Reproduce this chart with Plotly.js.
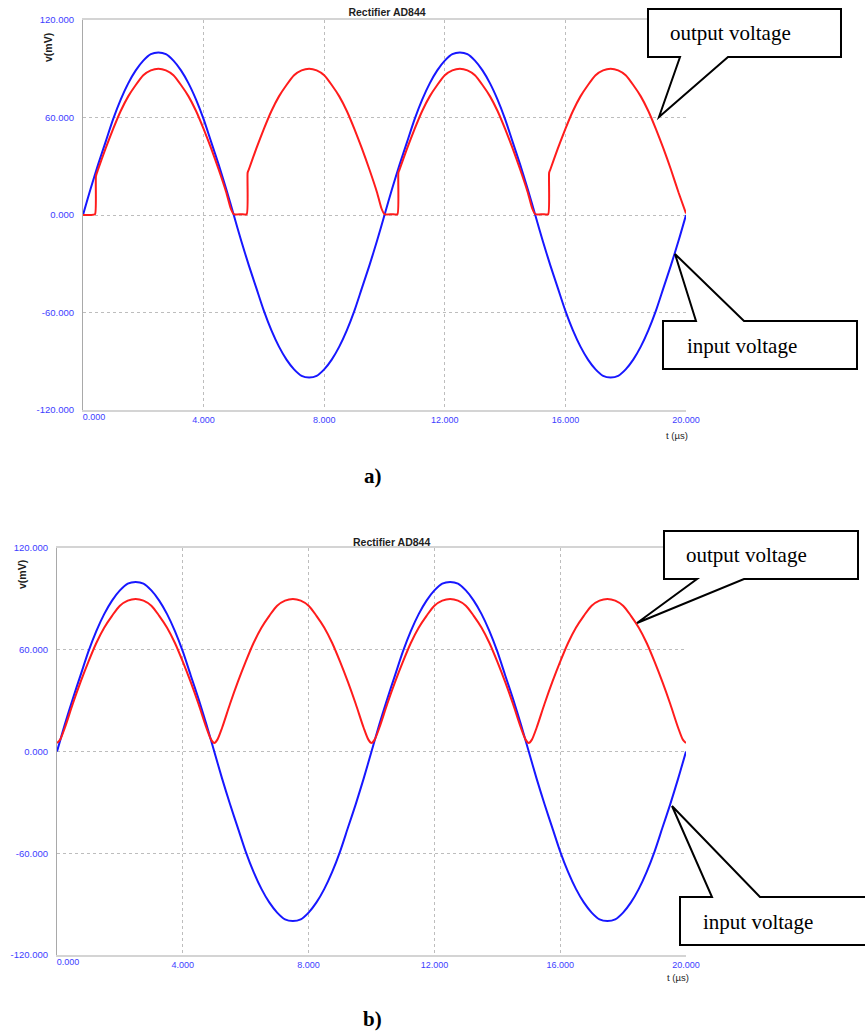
<!DOCTYPE html>
<html>
<head>
<meta charset="utf-8">
<script src="https://cdn.plot.ly/plotly-3.0.1.min.js"></script>
<style>
  html, body { margin: 0; padding: 0; background: #ffffff; }
  #chart { width: 865px; height: 1035px; }
</style>
</head>
<body>
<div id="chart"></div>
<script>
// ---------- data (time in µs, voltage in mV) ----------
const tInput = [0,0.25,0.5,0.75,1,1.25,1.5,1.75,2,2.25,2.5,2.75,3,3.25,3.5,3.75,4,4.25,4.5,4.75,
  5,5.25,5.5,5.75,6,6.25,6.5,6.75,7,7.25,7.5,7.75,8,8.25,8.5,8.75,9,9.25,9.5,9.75,
  10,10.25,10.5,10.75,11,11.25,11.5,11.75,12,12.25,12.5,12.75,13,13.25,13.5,13.75,14,14.25,14.5,14.75,
  15,15.25,15.5,15.75,16,16.25,16.5,16.75,17,17.25,17.5,17.75,18,18.25,18.5,18.75,19,19.25,19.5,19.75,20];
const vInput = [0,16,31,45,59,71,81,89,95,99,100,99,95,89,81,71,59,45,31,16,
  0,-16,-31,-45,-59,-71,-81,-89,-95,-99,-100,-99,-95,-89,-81,-71,-59,-45,-31,-16,
  0,16,31,45,59,71,81,89,95,99,100,99,95,89,81,71,59,45,31,16,
  0,-16,-31,-45,-59,-71,-81,-89,-95,-99,-100,-99,-95,-89,-81,-71,-59,-45,-31,-16,0];

// a) output voltage (with dead zones after each zero crossing)
const tOutA = [0,0.25,0.4,0.43,0.5,0.75,1,1.25,1.5,1.75,2,2.25,2.5,2.75,3,3.25,3.5,3.75,4,4.25,4.5,4.75,4.9,
  5,5.25,5.43,5.46,5.5,5.75,6,6.25,6.5,6.75,7,7.25,7.5,7.75,8,8.25,8.5,8.75,9,9.25,9.5,9.75,9.9,
  10,10.25,10.43,10.46,10.5,10.75,11,11.25,11.5,11.75,12,12.25,12.5,12.75,13,13.25,13.5,13.75,14,14.25,14.5,14.75,14.9,
  15,15.25,15.43,15.46,15.5,15.75,16,16.25,16.5,16.75,17,17.25,17.5,17.75,18,18.25,18.5,18.75,19,19.25,19.5,19.75,20];
const vOutA = [0,0,0.5,24,28,41,53,64,73,80,86,89,90,89,86,80,73,64,53,41,28,14,4,
  0.5,0.5,0.5,26,28,41,53,64,73,80,86,89,90,89,86,80,73,64,53,41,28,14,4,
  0.5,0.5,0.5,26,28,41,53,64,73,80,86,89,90,89,86,80,73,64,53,41,28,14,4,
  0.5,0.5,0.5,26,28,41,53,64,73,80,86,89,90,89,86,80,73,64,53,41,28,14,1];

// b) output voltage (full-wave with small rounded minima)
const tOutB = [0,0.1,0.25,0.5,0.75,1,1.25,1.5,1.75,2,2.25,2.5,2.75,3,3.25,3.5,3.75,4,4.25,4.5,4.75,4.9,
  5,5.1,5.25,5.5,5.75,6,6.25,6.5,6.75,7,7.25,7.5,7.75,8,8.25,8.5,8.75,9,9.25,9.5,9.75,9.9,
  10,10.1,10.25,10.5,10.75,11,11.25,11.5,11.75,12,12.25,12.5,12.75,13,13.25,13.5,13.75,14,14.25,14.5,14.75,14.9,
  15,15.1,15.25,15.5,15.75,16,16.25,16.5,16.75,17,17.25,17.5,17.75,18,18.25,18.5,18.75,19,19.25,19.5,19.75,19.9,20];
const vOutB = [5,7,14,28,41,53,64,73,80,86,89,90,89,86,80,73,64,53,41,28,14,7,
  5,7,14,28,41,53,64,73,80,86,89,90,89,86,80,73,64,53,41,28,14,7,
  5,7,14,28,41,53,64,73,80,86,89,90,89,86,80,73,64,53,41,28,14,7,
  5,7,14,28,41,53,64,73,80,86,89,90,89,86,80,73,64,53,41,28,14,7,5];

// tick labels
const xTickVals = [0,4,8,12,16,20];
const xTickText = ['','4.000','8.000','12.000','16.000','20.000'];
const xFirstTickVals = [0];
const xFirstTickText = ['0.000'];
const yTickVals = [-120,-60,0,60,120];
const yTickText = ['-120.000','-60.000','0.000','60.000','120.000'];

const chartTitle = 'Rectifier AD844';
const yTitle = 'v(mV)';
const xTitle = 't (\u00b5s)';

// ---------- layout helpers (pixel -> paper) ----------
const W = 865, H = 1035;
const px = x => x / W;
const py = y => 1 - y / H;
function pathFrom(pts) {
  return 'M' + pts.map(p => px(p[0]).toFixed(5) + ',' + py(p[1]).toFixed(5)).join(' L') + ' Z';
}

const BLUE = '#1717ff', RED = '#ff1c1c';
const tickFont = { family: 'Liberation Sans, Arial, sans-serif', size: 9.5, color: '#3d3dff' };
const xTickFont = { family: 'Liberation Sans, Arial, sans-serif', size: 9, color: '#3d3dff' };
const sans = 'Liberation Sans, Arial, sans-serif';
const serif = 'Liberation Serif, Times New Roman, serif';

function xAxis(domain, anchor) {
  return {
    domain: domain, anchor: anchor, range: [0, 20], autorange: false,
    tickmode: 'array', tickvals: xTickVals, ticktext: xTickText,
    tickfont: xTickFont, ticks: '', ticklabelstandoff: 0,
    showgrid: true, gridcolor: '#bdbdbd', griddash: 'dot', gridwidth: 1,
    zeroline: false, showline: true, linecolor: '#d4d4d4', linewidth: 2, mirror: true,
    fixedrange: true
  };
}
function xFirst(over, anchor) {
  return {
    overlaying: over, anchor: anchor, range: [0, 20], autorange: false,
    tickmode: 'array', tickvals: xFirstTickVals, ticktext: xFirstTickText,
    tickfont: xTickFont, ticks: '', ticklabelstandoff: 0, ticklabelshift: 11,
    showgrid: false, zeroline: false, showline: false, side: 'bottom', fixedrange: true
  };
}
function yAxis(domain, anchor) {
  return {
    domain: domain, anchor: anchor, range: [-120, 120], autorange: false,
    tickmode: 'array', tickvals: yTickVals, ticktext: yTickText,
    tickfont: tickFont, ticks: '', ticklabelstandoff: 6,
    showgrid: true, gridcolor: '#bdbdbd', griddash: 'dot', gridwidth: 1,
    zeroline: false, showline: true, linecolor: '#a9a9a9', linewidth: 1, mirror: false,
    fixedrange: true
  };
}

const smooth = { shape: 'spline', smoothing: 0.8 };
const traces = [
  // empty helper traces so that the overlaying "first tick" axes are drawn
  { x: [], y: [], xaxis: 'x3', yaxis: 'y', mode: 'lines', hoverinfo: 'skip' },
  { x: [], y: [], xaxis: 'x4', yaxis: 'y2', mode: 'lines', hoverinfo: 'skip' },
  { x: tInput, y: vInput, xaxis: 'x', yaxis: 'y', mode: 'lines', line: Object.assign({ color: BLUE, width: 2 }, smooth), hoverinfo: 'skip' },
  { x: tOutA, y: vOutA, xaxis: 'x', yaxis: 'y', mode: 'lines', line: { color: RED, width: 2, shape: 'spline', smoothing: 0.5 }, hoverinfo: 'skip' },
  { x: tInput, y: vInput, xaxis: 'x2', yaxis: 'y2', mode: 'lines', line: Object.assign({ color: BLUE, width: 2 }, smooth), hoverinfo: 'skip' },
  { x: tOutB, y: vOutB, xaxis: 'x2', yaxis: 'y2', mode: 'lines', line: Object.assign({ color: RED, width: 2 }, smooth), hoverinfo: 'skip' }
];

function label(text, x, y, opts) {
  return Object.assign({
    text: text, xref: 'paper', yref: 'paper', x: px(x), y: py(y),
    xanchor: 'center', yanchor: 'middle', showarrow: false
  }, opts);
}

const calloutLine = { color: '#000000', width: 2 };
const shapes = [
  { type: 'path', xref: 'paper', yref: 'paper', fillcolor: '#ffffff', line: calloutLine, layer: 'above',
    path: pathFrom([[648,9],[841,9],[841,57],[728,57],[659,117],[680,57],[648,57]]) },
  { type: 'path', xref: 'paper', yref: 'paper', fillcolor: '#ffffff', line: calloutLine, layer: 'above',
    path: pathFrom([[663,321],[696,321],[675,254],[744,321],[857,321],[857,369],[663,369]]) },
  { type: 'path', xref: 'paper', yref: 'paper', fillcolor: '#ffffff', line: calloutLine, layer: 'above',
    path: pathFrom([[664,531],[858,531],[858,579],[744,579],[637,623],[697,579],[664,579]]) },
  { type: 'path', xref: 'paper', yref: 'paper', fillcolor: '#ffffff', line: calloutLine, layer: 'above',
    path: pathFrom([[680,897],[712,897],[672,806],[760,897],[875,897],[875,945],[680,945]]) }
];

const calloutFont = { family: serif, size: 21, color: '#000000' };
const annotations = [
  label('<b>' + chartTitle + '</b>', 391, 542, { font: { family: sans, size: 10.5, color: '#1e1e1e' } }),
  label('<b>' + yTitle + '</b>', 48, 48, { textangle: -90, font: { family: sans, size: 10.5, color: '#1e1e1e' } }),
  label('<b>' + yTitle + '</b>', 22, 575, { textangle: -90, font: { family: sans, size: 10.5, color: '#1e1e1e' } }),
  label(xTitle, 677, 436, { font: { family: sans, size: 9.5, color: '#1e1e1e' } }),
  label(xTitle, 678, 977, { font: { family: sans, size: 9.5, color: '#1e1e1e' } }),
  label('<b>a)</b>', 373, 476, { font: { family: serif, size: 21, color: '#000000' } }),
  label('<b>b)</b>', 372, 1019, { font: { family: serif, size: 21, color: '#000000' } }),
  label('output voltage', 668, 33, { xanchor: 'left', font: calloutFont }),
  label('input voltage', 685, 346, { xanchor: 'left', font: calloutFont }),
  label('output voltage', 684, 555, { xanchor: 'left', font: calloutFont }),
  label('input voltage', 701, 922, { xanchor: 'left', font: calloutFont })
];

const layout = {
  width: W, height: H, autosize: false,
  margin: { l: 0, r: 0, t: 0, b: 0, pad: 0 },
  paper_bgcolor: '#ffffff', plot_bgcolor: '#ffffff',
  showlegend: false, hovermode: false,
  title: {
    text: '<b>' + chartTitle + '</b>', xref: 'paper', yref: 'container',
    x: px(387), y: py(12), xanchor: 'center', yanchor: 'middle',
    font: { family: sans, size: 10.5, color: '#1e1e1e' }
  },
  xaxis: xAxis([px(83), px(686)], 'y'),
  yaxis: yAxis([py(410), py(20)], 'x'),
  xaxis2: xAxis([px(57), px(686)], 'y2'),
  yaxis2: yAxis([py(955), py(548)], 'x2'),
  xaxis3: xFirst('x', 'y'),
  xaxis4: xFirst('x2', 'y2'),
  shapes: shapes,
  annotations: annotations
};

Plotly.newPlot('chart', traces, layout, { staticPlot: true, displayModeBar: false });
</script>
</body>
</html>
